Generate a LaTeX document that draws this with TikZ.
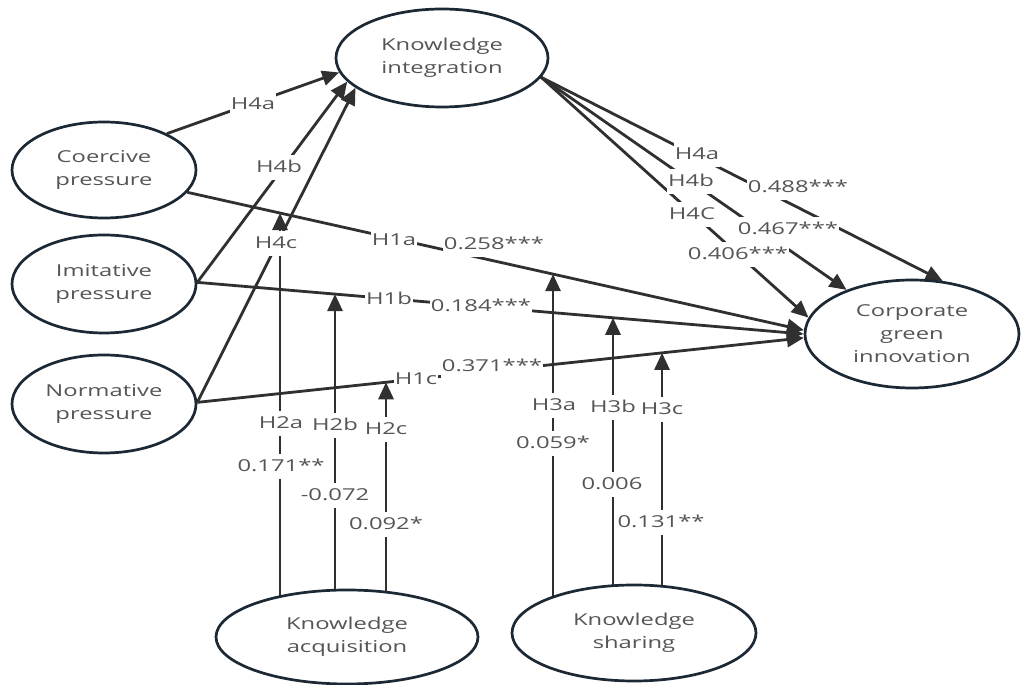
\documentclass[tikz,border=0pt]{standalone}
\usepackage{fontspec}
\setmainfont{Open Sans}[FakeStretch=1.45]
\usetikzlibrary{arrows.meta,shapes.geometric,intersections,backgrounds}
\definecolor{txt}{HTML}{555555}
\definecolor{ln}{HTML}{303030}
\definecolor{eb}{HTML}{1C2833}
\begin{document}
\begin{tikzpicture}[x=1pt,y=1pt,
  font=\fontsize{16.4}{23}\selectfont, text=txt,
  var/.style={ellipse, draw=eb, line width=2.7pt, fill=white, inner sep=0pt, align=center},
  conn/.style={draw=ln, line width=2.8pt, -{Triangle[length=17pt,width=15pt]}},
  lab/.style={fill=white, inner xsep=1pt, inner ysep=5pt, text height=12pt, text depth=3pt}]
\useasboundingbox (0,0) rectangle (1021,685);
% variables
\node[var, minimum width=212pt, minimum height=98pt] (KI) at (442,627) {Knowledge\\integration};
\node[var, minimum width=184pt, minimum height=96pt] (CP) at (104,515) {Coercive\\pressure};
\node[var, minimum width=184pt, minimum height=98pt] (IP) at (104,401) {Imitative\\pressure};
\node[var, minimum width=184pt, minimum height=98pt] (NP) at (104,281) {Normative\\pressure};
\node[var, minimum width=262pt, minimum height=94pt] (KA) at (347,48) {Knowledge\\acquisition};
\node[var, minimum width=244pt, minimum height=96pt] (KS) at (634,52) {Knowledge\\sharing};
\node[var, minimum width=214pt, minimum height=108pt] (CGI) at (912,351) {Corporate\\green\\innovation};
% connectors
\begin{pgfonlayer}{background}
\draw[conn] (CP.30) -- (KI.188);
\draw[conn] (IP.1) -- (KI.194);
\draw[conn] (NP.1) -- (KI.199);
\draw[conn, name path=h1a] (CP.-15) -- (CGI.178);
\draw[conn, name path=h1b] (IP.1) -- (CGI.180);
\draw[conn, name path=h1c] (NP.1) -- (CGI.182);
\draw[conn] (KI.-11) -- (CGI.60);
\draw[conn] (KI.-11) -- (CGI.146);
\draw[conn] (KI.-11) -- (CGI.171);
\path[name path=v2a] (280,0) -- (280,685);
\path[name path=v2b] (335,0) -- (335,685);
\path[name path=v2c] (386,0) -- (386,685);
\path[name path=v3a] (553,0) -- (553,685);
\path[name path=v3b] (613,0) -- (613,685);
\path[name path=v3c] (662,0) -- (662,685);
\path[name intersections={of=h1a and v2a, by=t2a}];
\path[name intersections={of=h1b and v2b, by=t2b}];
\path[name intersections={of=h1c and v2c, by=t2c}];
\path[name intersections={of=h1a and v3a, by=t3a}];
\path[name intersections={of=h1b and v3b, by=t3b}];
\path[name intersections={of=h1c and v3c, by=t3c}];
\draw[conn] (t2a |- KA.center) -- (t2a);
\draw[conn] (t2b |- KA.center) -- (t2b);
\draw[conn] (t2c |- KA.center) -- (t2c);
\draw[conn] (t3a |- KS.center) -- (t3a);
\draw[conn] (t3b |- KS.center) -- (t3b);
\draw[conn] (t3c |- KS.center) -- (t3c);
\end{pgfonlayer}
% labels
\node[lab] (l1) at (253,580) {H4a};
\node[lab] (l2) at (279,517) {H4b};
\node[lab] (l3) at (276,441) {H4c};
\node[lab] (l4) at (394,444) {H1a};
\node[lab] (l5) at (494,440) {0.258***};
\node[lab] (l6) at (389,385) {H1b};
\node[lab] (l7) at (481,378) {0.184***};
\node[lab] (l8) at (416,305) {H1c};
\node[lab] (l9) at (492,318) {0.371***};
\node[lab] (l10) at (697,530) {H4a};
\node[lab] (l11) at (798,497) {0.488***};
\node[lab] (l12) at (691,503) {H4b};
\node[lab] (l13) at (788,455) {0.467***};
\node[lab] (l14) at (692,470) {H4C};
\node[lab] (l15) at (738,430) {0.406***};
\node[lab] (l16) at (281,261) {H2a};
\node[lab] (l17) at (281,218) {0.171**};
\node[lab] (l18) at (335,259) {H2b};
\node[lab] (l19) at (335,189) {-0.072};
\node[lab] (l20) at (386,255) {H2c};
\node[lab] (l21) at (386,160) {0.092*};
\node[lab] (l22) at (554,279) {H3a};
\node[lab] (l23) at (553,241) {0.059*};
\node[lab] (l24) at (613,277) {H3b};
\node[lab] (l25) at (612,200) {0.006};
\node[lab] (l26) at (662,275) {H3c};
\node[lab] (l27) at (661,162) {0.131**};
\end{tikzpicture}
\end{document}
